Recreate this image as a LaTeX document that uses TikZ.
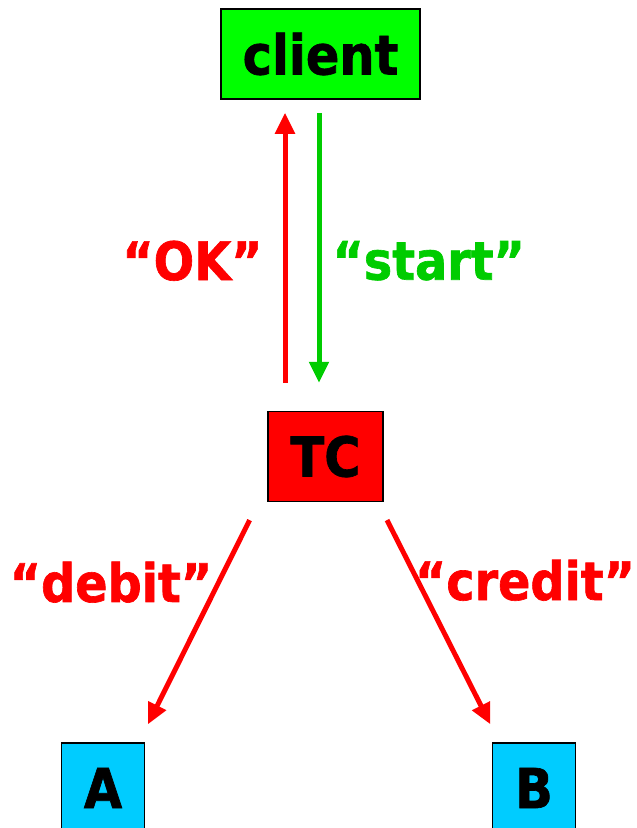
\documentclass[tikz,border=0pt]{standalone}
\usepackage{fontspec}
\setmainfont{DejaVu Sans Condensed}[BoldFeatures={FakeBold=1.2}]
\usetikzlibrary{arrows.meta,positioning}
\definecolor{okgreen}{HTML}{00CC00}
\definecolor{boxgreen}{HTML}{00FF00}
\definecolor{boxcyan}{HTML}{00CCFF}
\tikzstyle{box}=[rectangle,draw=black,line width=1.5pt,inner sep=0pt,minimum height=90pt,text=black,font=\fontsize{55}{60}\selectfont\bfseries]
\tikzstyle{user}=[box,fill=boxgreen,minimum width=199pt]
\tikzstyle{coordinator}=[box,fill=red,minimum width=115pt]
\tikzstyle{account}=[box,fill=boxcyan,minimum width=83pt]
\tikzstyle{msg}=[-{Triangle[length=21pt,width=19pt]},line width=5pt]
\tikzstyle{said}=[inner sep=0pt,font=\fontsize{53}{58}\selectfont\bfseries]

\begin{document}
\begin{tikzpicture}[x=1pt,y=-1pt]
\useasboundingbox (0,0) rectangle (637,828);

\node (client) [user] at (320.5,54) {client} ;
\node (tc) [coordinator,below=311pt of client,xshift=5pt] {TC} ;
\node (a) [account,below left=240pt and 122pt of tc] {A} ;
\node (b) [account,below right=240pt and 108pt of tc] {B} ;

\draw [msg,red,shorten <=28pt,shorten >=13pt] ([xshift=-40.5pt]tc.north) -- ([xshift=-35.5pt]client.south)
  node [said,text=red,midway,left=20pt,yshift=-5.5pt] {“OK”} ;
\draw [msg,okgreen,shorten <=13pt,shorten >=28pt] ([xshift=-1.5pt]client.south) -- ([xshift=-6.5pt]tc.north)
  node [said,text=okgreen,midway,right=11pt,yshift=-5.5pt] {“start”} ;
\draw [msg,red,shorten <=20pt,shorten >=20pt] ([xshift=-67pt]tc.south) -- ([xshift=36pt]a.north)
  node [said,text=red,pos=0.333,left=4pt] {“debit”} ;
\draw [msg,red,shorten <=20pt,shorten >=20pt] ([xshift=52.5pt]tc.south) -- ([xshift=-34.5pt]b.north)
  node [said,text=red,pos=0.325,right=-5pt] {“credit”} ;

\end{tikzpicture}
\end{document}
